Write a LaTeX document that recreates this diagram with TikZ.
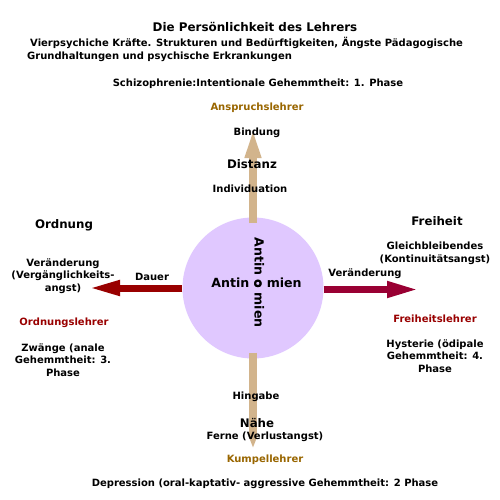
\documentclass[tikz,border=0pt]{standalone}
\usepackage{fontspec}
\setmainfont{DejaVu Sans}
\usetikzlibrary{arrows.meta,positioning}
\definecolor{circlilac}{RGB}{224,200,255}
\definecolor{armtan}{RGB}{210,180,140}
\definecolor{ordred}{RGB}{153,0,0}
\definecolor{freired}{RGB}{153,0,51}
\definecolor{lehrbrown}{RGB}{153,102,0}

\begin{document}
\begin{tikzpicture}[
  x=1pt, y=-1pt,
  txt/.style={font=\bfseries\fontsize{10}{12.5}\selectfont, align=center, inner sep=0pt},
  big/.style={font=\bfseries\fontsize{11.8}{13}\selectfont, inner sep=0pt},
  title/.style={font=\bfseries\fontsize{11.9}{13}\selectfont, inner sep=0pt},
  antin/.style={font=\bfseries\fontsize{12.6}{14}\selectfont, inner sep=0pt, anchor=base},
  arm/.style={line width=#1},
  uparm/.style={arm=8pt, armtan, -{Triangle[length=32pt,width=14pt]}},
  downarm/.style={arm=8pt, armtan, -{Triangle[length=12pt,width=8pt]}},
  leftarm/.style={arm=7pt, ordred, -{Triangle[length=32pt,width=14pt]}},
  rightarm/.style={arm=7pt, freired, -{Triangle[length=32pt,width=15pt]}}
]
\useasboundingbox (0,0) rectangle (500,500);
\fill[white] (0,0) rectangle (500,500);

% Kopf
\node[title] (titel) at (255,27) {Die Persönlichkeit des Lehrers};
\node[txt, anchor=west] (zeile1) at (30,43) {Vierpsychiche Kräfte. Strukturen und Bedürftigkeiten, Ängste Pädagogische};
\node[txt, anchor=west] (zeile2) at (27,57) {Grundhaltungen und psychische Erkrankungen};
\node[txt] (schizo) at (258,84) {Schizophrenie:Intentionale Gehemmtheit: 1. Phase};

% Mitte
\node[circle, fill=circlilac, minimum size=141pt, inner sep=0pt] (kreis) at (253,288) {};

% Pfeile
\coordinate (obenspitze) at (253,126);
\coordinate (untenspitze) at (253,448);
\coordinate (linksspitze) at (88,288);
\coordinate (rechtsspitze) at (419,289.5);
\draw[uparm] ([yshift=-6pt]kreis.north) -- (obenspitze);
\draw[downarm] ([yshift=6pt]kreis.south) -- (untenspitze);
\draw[leftarm] (kreis.west) -- (linksspitze);
\draw[rightarm] ([yshift=-1.5pt]kreis.east) -- (rechtsspitze);

\node[antin] (antinH) at (256.5,287.5) {Antin o mien};
\node[antin, rotate=-90] (antinV) at (254.5,282.5) {Antin o mien};

% oben
\node[txt, lehrbrown] (anspruch) at (257,108) {Anspruchslehrer};
\node[txt] (bindung) at (257,133) {Bindung};
\node[big] (distanz) at (252,164) {Distanz};
\node[txt] (indiv) at (250,189) {Individuation};

% links
\node[big] (ordnung) at (64,225) {Ordnung};
\node[txt] (veraendL) at (63,276) {Veränderung\\(Vergänglichkeits-\\angst)};
\node[txt] (dauer) at (152,277) {Dauer};
\node[txt, ordred] (ordlehrer) at (64,323) {Ordnungslehrer};
\node[txt] (zwaenge) at (63,360) {Zwänge (anale\\Gehemmtheit: 3.\\Phase};

% rechts
\node[big] (freiheit) at (437,221) {Freiheit};
\node[txt] (gleich) at (435,253.5) {Gleichbleibendes\\(Kontinuitätsangst)};
\node[txt] (veraendR) at (365,274) {Veränderung};
\node[txt, ordred] (freilehrer) at (435,319) {Freiheitslehrer};
\node[txt] (hysterie) at (435,356) {Hysterie (ödipale\\Gehemmtheit: 4.\\Phase};

% unten
\node[txt] (hingabe) at (256,397) {Hingabe};
\node[big] (naehe) at (257,423) {Nähe};
\node[txt] (ferne) at (265,437) {Ferne (Verlustangst)};
\node[txt, lehrbrown] (kumpel) at (265,460) {Kumpellehrer};
\node[txt] (depression) at (265,484) {Depression (oral-kaptativ- aggressive Gehemmtheit: 2 Phase};
\end{tikzpicture}
\end{document}
